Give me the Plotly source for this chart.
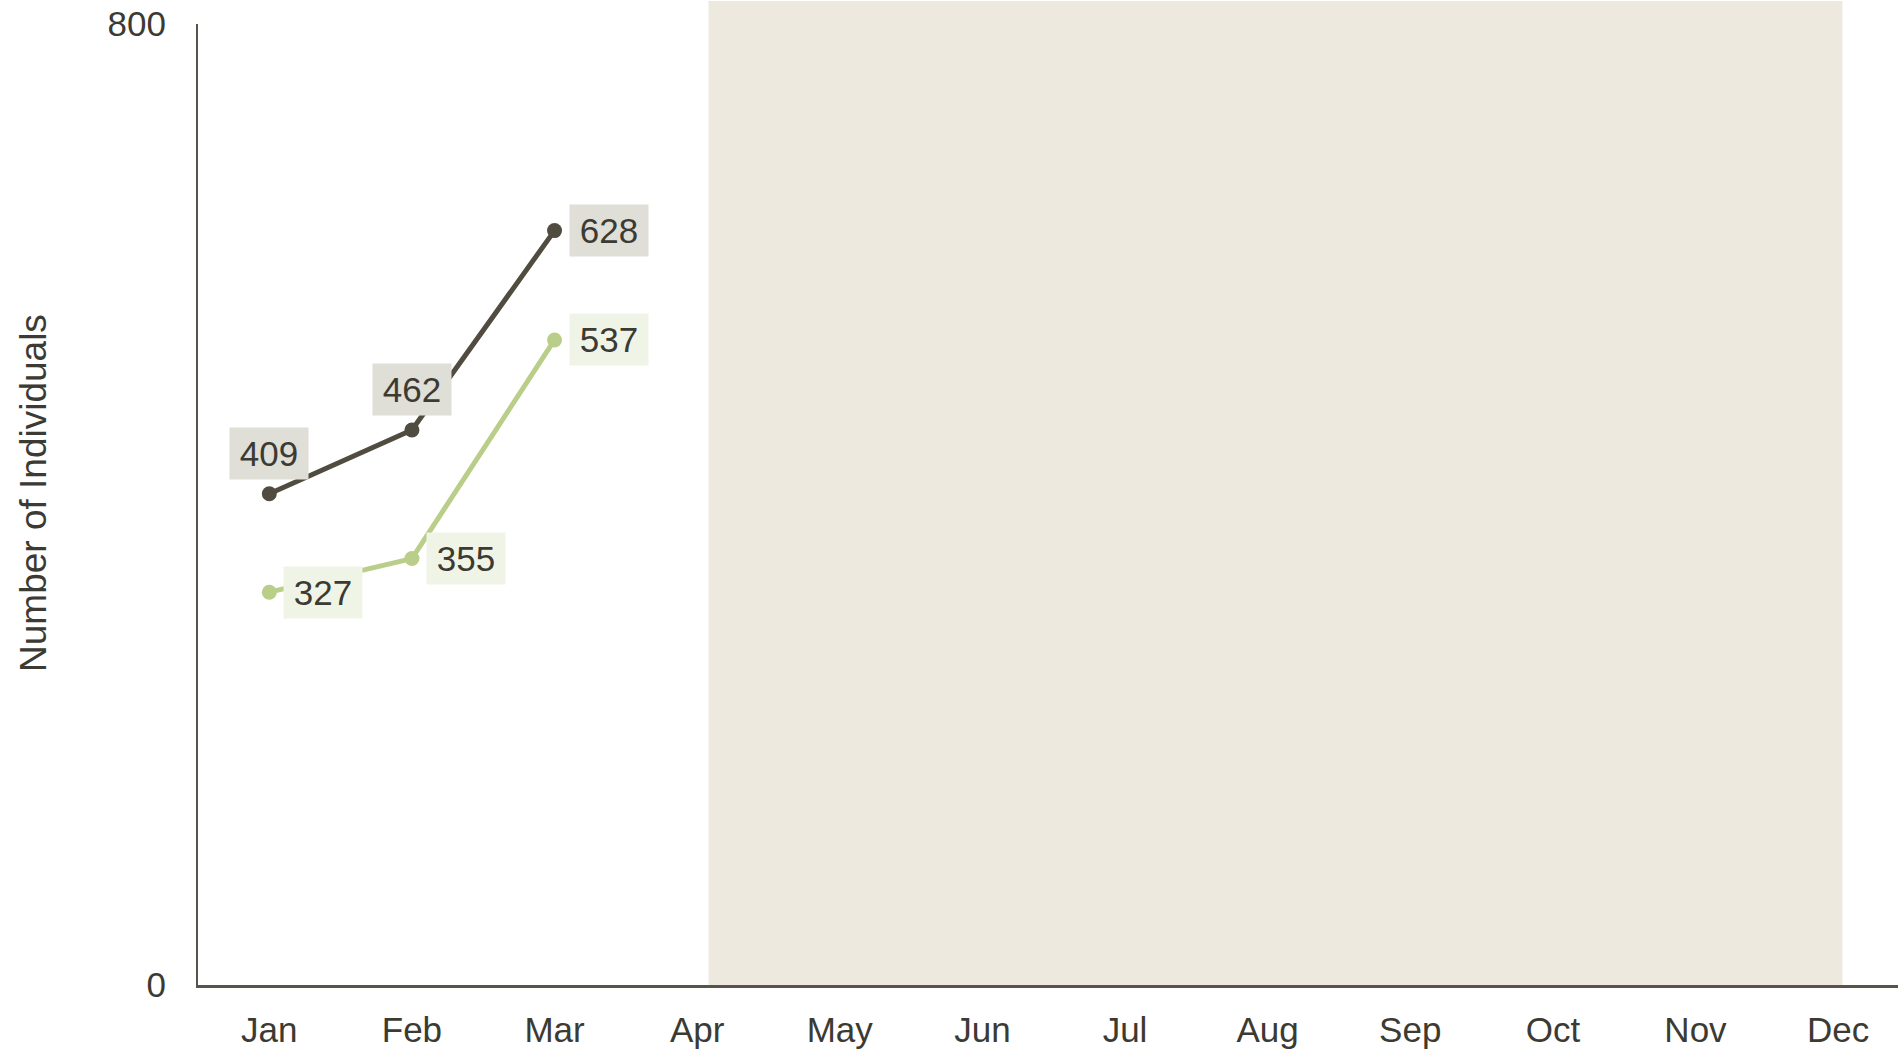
import plotly.graph_objects as go

months = ["Jan", "Feb", "Mar", "Apr", "May", "Jun", "Jul", "Aug", "Sep", "Oct", "Nov", "Dec"]
series_a_values = [409, 462, 628]
series_b_values = [327, 355, 537]
y_tick_values = [0, 800]
y_title = "Number of Individuals"

DARK = "#514c40"
GREEN = "#b9ce89"
DARK_BG = "#dfded7"
GREEN_BG = "#f0f4e6"
SHADE = "#ede9df"
TEXT = "#3b3a33"
FONT = "Liberation Sans, Arial, sans-serif"

fig = go.Figure()

fig.add_shape(type="rect", xref="x", yref="paper", x0=3.08, x1=11.03, y0=0, y1=1.024,
              fillcolor=SHADE, line=dict(width=0), layer="below")

fig.add_trace(go.Scatter(x=months[:len(series_a_values)], y=series_a_values, mode="lines+markers",
                         line=dict(color=DARK, width=5), marker=dict(color=DARK, size=15),
                         hoverinfo="skip", showlegend=False))
fig.add_trace(go.Scatter(x=months[:len(series_b_values)], y=series_b_values, mode="lines+markers",
                         line=dict(color=GREEN, width=5), marker=dict(color=GREEN, size=15),
                         hoverinfo="skip", showlegend=False))

a_pos = ["above", "above", "right"]
b_pos = ["right", "right", "right"]

def add_labels(values, positions, bg):
    for i, (v, p) in enumerate(zip(values, positions)):
        common = dict(x=months[i], y=v, text=str(v), showarrow=False,
                      bgcolor=bg, borderpad=6, width=66,
                      font=dict(size=35, color=TEXT, family=FONT))
        if p == "above":
            fig.add_annotation(xanchor="center", yanchor="bottom", yshift=14, **common)
        else:
            fig.add_annotation(xanchor="left", yanchor="middle", xshift=14, **common)

add_labels(series_a_values, a_pos, DARK_BG)
add_labels(series_b_values, b_pos, GREEN_BG)

# y-axis title as rotated annotation for exact placement
fig.add_annotation(text=y_title, textangle=-90, showarrow=False,
                   xref="paper", yref="paper", x=0, y=0.512, xshift=-164,
                   xanchor="center", yanchor="middle",
                   font=dict(size=37, color=TEXT, family=FONT))

fig.update_layout(
    width=1898, height=1052,
    margin=dict(l=198, r=0, t=24, b=67),
    paper_bgcolor="white", plot_bgcolor="rgba(0,0,0,0)",
    font=dict(family=FONT, size=35, color=TEXT),
    xaxis=dict(type="category", categoryorder="array", categoryarray=months,
               range=[-0.5, 11.42], showgrid=False, zeroline=False, automargin=False,
               showline=True, linecolor="#57544a", linewidth=2.5,
               ticks="", ticklabelstandoff=12, ticklabeloverflow="allow",
               tickfont=dict(size=35, color=TEXT)),
    yaxis=dict(range=[0, 800], tickvals=y_tick_values, showgrid=False, zeroline=False,
               automargin=False,
               showline=True, linecolor="#57544a", linewidth=2,
               ticks="", ticklabelstandoff=23, ticklabeloverflow="allow",
               tickfont=dict(size=35, color=TEXT)),
)

fig.write_html("out.html", config={"displayModeBar": False},
               post_script="document.body.style.margin='0';document.body.style.overflow='hidden';")
